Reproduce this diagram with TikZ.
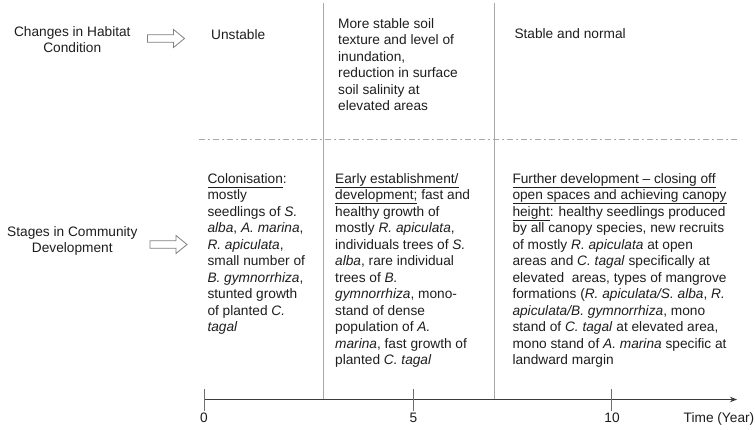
\documentclass[tikz,border=0pt]{standalone}
\usepackage{fontspec}
\setmainfont{Liberation Sans}
\usetikzlibrary{arrows.meta}
\definecolor{txt}{HTML}{1E1E1E}
\definecolor{rulegray}{HTML}{A8A8A8}
\definecolor{axisgray}{HTML}{3C3C3C}
\definecolor{arrowgray}{HTML}{808080}
\definecolor{tickgray}{HTML}{6E6E6E}
\newsavebox\ulbox
\newcommand\uln[1]{\sbox\ulbox{#1}\rlap{\rule[-3.9pt]{\wd\ulbox}{0.75pt}}\usebox\ulbox}
\tikzset{
  blockarrow/.pic={\draw[arrowgray, line width=0.8pt, fill=white]
    (-18.5,-3.8) -- (7.5,-3.8) -- (7.5,-9) -- (18.5,0) -- (7.5,9) -- (7.5,3.8) -- (-18.5,3.8) -- cycle;}
}
\begin{document}
\begin{tikzpicture}[x=1pt,y=-1pt,
  body/.style={font=\fontsize{13.7}{16.5}\selectfont, text=txt, inner sep=0pt, align=left, anchor=north west},
  oneline/.style={font=\fontsize{13.7}{16.5}\selectfont, text=txt, inner sep=0pt, anchor=base west},
  rowlabel/.style={font=\fontsize{13.7}{15.7}\selectfont, text=txt, inner sep=0pt, align=center, anchor=north},
  divider/.style={draw=rulegray, line width=0.9pt},
  sepline/.style={draw=rulegray, line width=1pt, dash pattern=on 6pt off 3pt on 2pt off 3pt},
  axisline/.style={draw=axisgray, line width=1.4pt, -{Stealth[length=7pt,width=5.5pt]}},
  tickmark/.style={draw=tickgray, line width=0.9pt},
  ticklabel/.style={font=\fontsize{13.7}{16}\selectfont, text=txt, inner sep=0pt, anchor=base}
]
\fill[white] (0,0) rectangle (755,429);
\useasboundingbox (0,0) rectangle (755,429);

% dividers
\coordinate (d1top) at (323,3);
\coordinate (d1bot) at (323,399.5);
\coordinate (d2top) at (494.5,3);
\coordinate (d2bot) at (494.5,399.5);
\draw[divider] (d1top) -- (d1bot);
\draw[divider] (d2top) -- (d2bot);

% horizontal separator
\coordinate (sepL) at (199,139);
\coordinate (sepR) at (737,139);
\draw[sepline] (sepL) -- (sepR);

% row labels and arrows
\node[rowlabel] (habitat) at (72.3,26.7) {Changes in Habitat\\Condition};
\node[rowlabel] (stages) at (72.3,226.7) {Stages in Community\\Development};
\pic at (166,38.5) {blockarrow};
\pic at (168.5,244.5) {blockarrow};

% habitat conditions
\node[oneline] (unstable) at (211,39.5) {Unstable};
\node[body] (morestable) at (338,18.3) {More stable soil\\texture and level of\\inundation,\\reduction in surface\\soil salinity at\\elevated areas};
\node[oneline] (stable) at (514.3,38) {Stable and normal};

% stages
\node[body] (colon) at (207.3,173.3) {\uln{Colonisation}:\\
mostly\\
seedlings of \textit{S.}\\
\textit{alba}, \textit{A. marina},\\
\textit{R. apiculata},\\
small number of\\
\textit{B. gymnorrhiza},\\
stunted growth\\
of planted \textit{C.}\\
\textit{tagal}};

\node[body] (early) at (335,173.3) {\uln{Early establishment/}\\
\uln{development;} fast and\\
healthy growth of\\
mostly \textit{R. apiculata},\\
individuals trees of \textit{S.}\\
\textit{alba}, rare individual\\
trees of \textit{B.}\\
\textit{gymnorrhiza}, mono-\\
stand of dense\\
population of \textit{A.}\\
\textit{marina}, fast growth of\\
planted \textit{C. tagal}};

\node[body] (further) at (512.3,173.3) {\uln{Further development – closing off}\\
\uln{open spaces and achieving canopy}\\
\uln{height}: healthy seedlings produced\\
by all canopy species, new recruits\\
of mostly \textit{R. apiculata} at open\\
areas and \textit{C. tagal} specifically at\\
elevated\ \ areas, types of mangrove\\
formations (\textit{R. apiculata/S. alba}, \textit{R.}\\
\textit{apiculata/B. gymnorrhiza}, mono\\
stand of \textit{C. tagal} at elevated area,\\
mono stand of \textit{A. marina} specific at\\
landward margin};

% time axis
\coordinate (t0) at (204,399.5);
\coordinate (t5) at (413.5,399.5);
\coordinate (t10) at (611.5,399.5);
\coordinate (tend) at (737,399.5);
\draw[axisline] (t0) -- (tend);
\draw[tickmark] (t0) ++(0,-10.5) -- ++(0,21.5);
\draw[tickmark] (t5) ++(0,-10.5) -- ++(0,21.5);
\draw[tickmark] (t10) ++(0,-10.5) -- ++(0,21.5);
\node[ticklabel] (l0) at (204,422.5) {0};
\node[ticklabel] (l5) at (413.5,422.5) {5};
\node[ticklabel] (l10) at (612,422.5) {10};
\node[oneline] (timelbl) at (683.5,422.5) {Time (Year)};
\end{tikzpicture}
\end{document}
